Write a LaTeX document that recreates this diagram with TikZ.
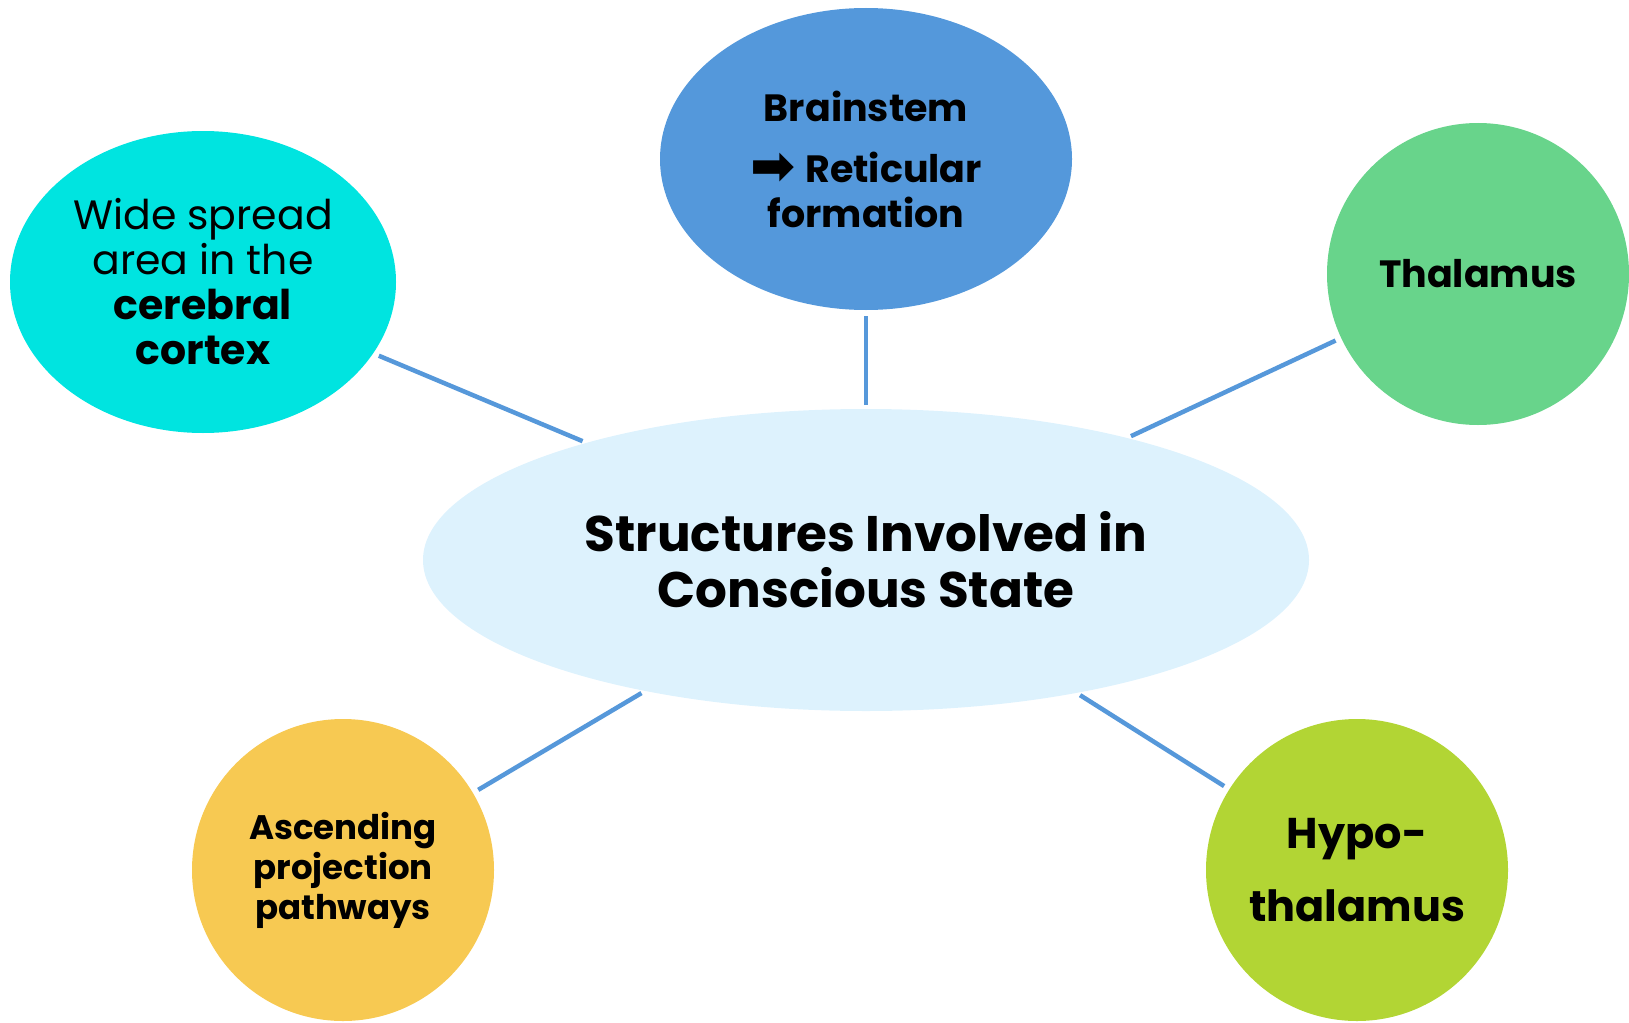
\documentclass[tikz,border=0pt]{standalone}
\usepackage{fontspec}
\setmainfont{Poppins}
\newfontfamily\arrowfont{DejaVu Sans}
\usetikzlibrary{shapes.geometric}
\definecolor{cbrain}{HTML}{5498DB}
\definecolor{ccortex}{HTML}{00E4E0}
\definecolor{cthal}{HTML}{68D48B}
\definecolor{casc}{HTML}{F7C952}
\definecolor{chypo}{HTML}{B2D534}
\definecolor{ccenter}{HTML}{DDF2FD}
\definecolor{clink}{HTML}{5698DA}
\begin{document}
\begin{tikzpicture}[x=1pt,y=-1pt,
  blob/.style={ellipse, inner sep=0pt, align=center, text=black},
  disc/.style={circle, inner sep=0pt, minimum size=302pt, align=center, text=black},
  link/.style={draw=clink, line width=4.5pt, shorten <=6pt, shorten >=4pt}]
\useasboundingbox (0,0) rectangle (1629,1022);
\node[blob, fill=ccenter, minimum width=886pt, minimum height=302pt,
  font=\fontsize{50}{56}\selectfont\bfseries] (center) at (866,560)
  {Structures Involved in\\Conscious State};
\node[blob, fill=cbrain, minimum width=412pt, minimum height=302pt,
  font=\fontsize{38}{45}\selectfont\bfseries] (brain) at (866,159)
  {Brainstem\\[16pt]\raisebox{-2pt}{\arrowfont\fontsize{54}{45}\selectfont ➡}\hspace{10pt}Reticular\\formation};
\node[blob, fill=ccortex, minimum width=386pt, minimum height=302pt,
  font=\fontsize{41}{45}\selectfont] (cortex) at (203,282)
  {Wide spread\\area in the\\\textbf{cerebral}\\\textbf{cortex}};
\node[disc, fill=cthal, font=\fontsize{38}{45}\selectfont\bfseries] (thal) at (1478,274)
  {Thalamus};
\node[disc, fill=casc, font=\fontsize{34}{40}\selectfont\bfseries] (asc) at (343,870)
  {Ascending\\projection\\pathways};
\node[disc, fill=chypo, font=\fontsize{43}{73}\selectfont\bfseries] (hypo) at (1357,870)
  {Hypo-\\thalamus};
\draw[link] (brain) -- (center);
\draw[link] (cortex) -- (center);
\draw[link] (thal) -- (center);
\draw[link] (asc) -- (center);
\draw[link] (hypo) -- (center);
\end{tikzpicture}
\end{document}
